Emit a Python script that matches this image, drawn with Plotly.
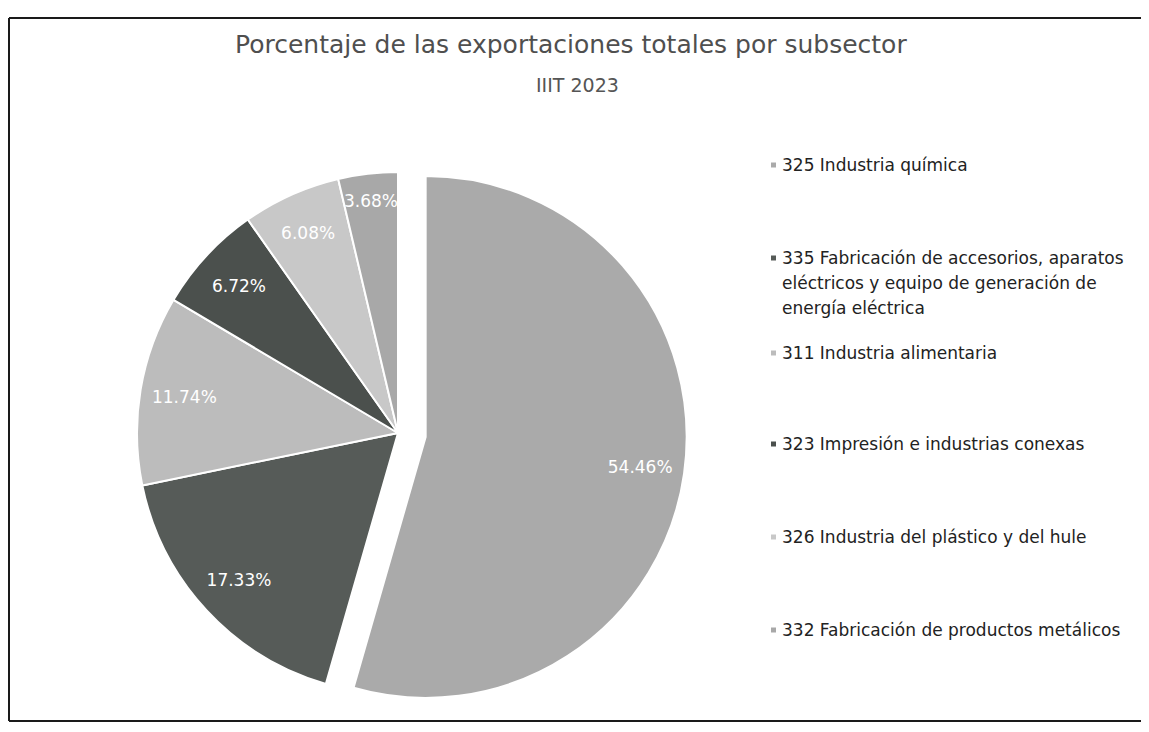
import plotly.graph_objects as go

# ---- data ----
labels = [
    "325 Industria química",
    "335 Fabricación de accesorios, aparatos<br>eléctricos y equipo de generación de<br>energía eléctrica",
    "311 Industria alimentaria",
    "323 Impresión e industrias conexas",
    "326 Industria del plástico y del hule",
    "332 Fabricación de productos metálicos",
]
values = [54.46, 17.33, 11.74, 6.72, 6.08, 3.68]
text_labels = ["54.46%", "17.33%", "11.74%", "6.72%", "6.08%", "3.68%"]
colors = ["#aaaaaa", "#565b58", "#bcbcbc", "#4b504d", "#c8c8c8", "#a8a8a8"]
pulls = [0.107, 0, 0, 0, 0, 0]

title_text = "Porcentaje de las exportaciones totales por subsector"
subtitle_text = "IIIT 2023"

# page is 1149x732, the html body adds an 8px margin
OFF = 8
W, H = 1149 - OFF, 732 - OFF
FONT = "DejaVu Sans"


def px(x):
    return (x - OFF) / W


def py(y):
    return 1 - (y - OFF) / H


# pie geometry (page pixels)
CX, CY, R = 398, 433, 261
half = R * (1 + max(pulls))
dom = dict(x=[px(CX - half), px(CX + half)], y=[py(CY + half), py(CY - half)])

fig = go.Figure()
# slices
fig.add_trace(go.Pie(
    labels=labels,
    values=values,
    textinfo="none",
    marker=dict(colors=colors, line=dict(color="white", width=2)),
    sort=False,
    direction="clockwise",
    rotation=0,
    pull=pulls,
    showlegend=False,
    hoverinfo="label+percent",
    domain=dom,
))
# data labels placed in the outer ring (same slices, transparent)
fig.add_trace(go.Pie(
    labels=labels,
    values=values,
    text=text_labels,
    textinfo="text",
    textposition="inside",
    insidetextorientation="horizontal",
    textfont=dict(family=FONT, size=17, color="white"),
    marker=dict(colors=["rgba(0,0,0,0)"] * len(values), line=dict(width=0)),
    hole=0.66,
    sort=False,
    direction="clockwise",
    rotation=0,
    pull=pulls,
    showlegend=False,
    hoverinfo="skip",
    domain=dom,
))

# legend drawn as annotations + small squares
legend_y = [165, 258, 353, 444, 537, 630]
LINE_H = 25
shapes = []
annotations = []
for lab, col, yy in zip(labels, colors, legend_y):
    shapes.append(dict(type="rect", xref="paper", yref="paper",
                       x0=px(771), x1=px(776),
                       y0=py(yy + 2.5), y1=py(yy - 2.5),
                       fillcolor=col, line=dict(width=0)))
    for i, line in enumerate(lab.split("<br>")):
        annotations.append(dict(text=line, xref="paper", yref="paper",
                                x=px(780), y=py(yy + i * LINE_H),
                                xanchor="left", yanchor="middle", align="left",
                                showarrow=False,
                                font=dict(family=FONT, size=17, color="#222222")))

# title
annotations.append(dict(text=title_text, xref="paper", yref="paper",
                        x=px(571), y=py(45), xanchor="center", yanchor="middle",
                        showarrow=False,
                        font=dict(family=FONT, size=25, color="#4f4f4f")))
annotations.append(dict(text=subtitle_text, xref="paper", yref="paper",
                        x=px(577), y=py(85), xanchor="center", yanchor="middle",
                        showarrow=False,
                        font=dict(family=FONT, size=19, color="#555555")))

# frame
for x0, y0, x1, y1 in [(9, 18, 1149, 18), (9, 18, 9, 721), (9, 721, 1149, 721)]:
    shapes.append(dict(type="line", xref="paper", yref="paper",
                       x0=px(x0), x1=px(x1), y0=py(y0), y1=py(y1),
                       line=dict(color="#1a1a1a", width=2)))

fig.update_layout(
    width=W, height=H,
    margin=dict(l=0, r=0, t=0, b=0),
    paper_bgcolor="white", plot_bgcolor="white",
    shapes=shapes, annotations=annotations,
    font=dict(family=FONT),
    uniformtext=dict(minsize=17, mode="show"),
)

fig.write_html("out.html")
